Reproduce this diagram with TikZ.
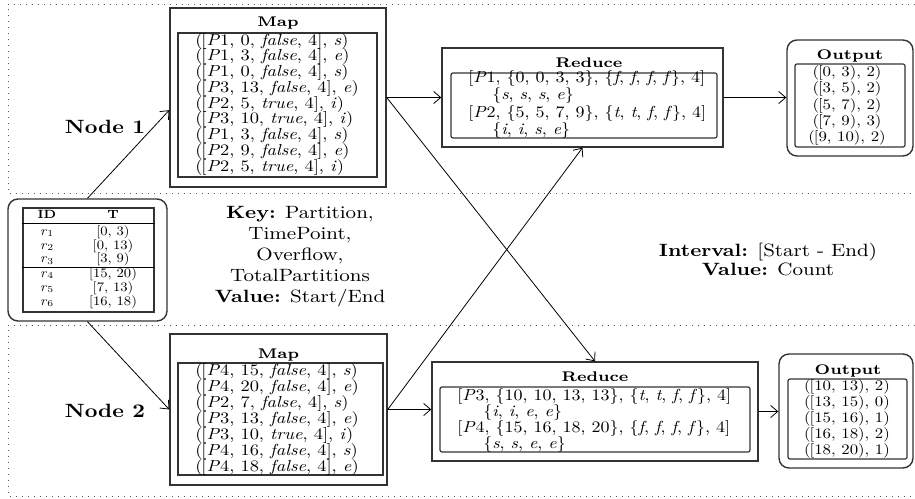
\documentclass[tikz,border=0pt]{standalone}
\usepackage{graphicx}
\usetikzlibrary{fit,calc,arrows.meta}

% slightly widened lettering
\newcommand\hs[1]{\scalebox{1.15}[1]{#1}}
\newcommand\ti[1]{\textit{#1}}
% opening parenthesis set close to the following bracket
\newcommand\op{(\kern-0.6pt}
% rows with a fixed baseline distance: #1 = x scale, #2 = y scale, #3 = skip, #4 = rows
\newcommand\cstack[4]{\scalebox{#1}[#2]{\vbox{\baselineskip=#3\lineskiplimit=-\maxdimen\lineskip=0pt\halign{\hfil##\hfil\cr#4\crcr}}}}
\newcommand\lstack[4]{\scalebox{#1}[#2]{\vbox{\baselineskip=#3\lineskiplimit=-\maxdimen\lineskip=0pt\halign{##\hfil\cr#4\crcr}}}}

\tikzset{
  boxA/.style={draw=black!80, line width=0.7pt, inner sep=0pt},
  boxIn/.style={draw=black!80, line width=0.6pt, inner sep=0pt},
  boxR/.style={boxA, rounded corners=5pt},
  sepline/.style={draw=black!65, line width=0.5pt, dash pattern=on 0.5pt off 2.5pt},
  arr/.style={-{Straight Barb[length=3.5pt,width=6pt]}, line width=0.4pt},
  ttl/.style={anchor=base, inner sep=0pt, font=\fontsize{7}{7}\selectfont\bfseries},
  rowsL/.style={anchor=west, inner sep=0pt, font=\normalsize},
  rowsC/.style={inner sep=0pt, font=\normalsize},
  idcell/.style={anchor=base, inner sep=0pt, font=\normalsize},
  idhead/.style={anchor=base, inner sep=0pt, font=\fontsize{6}{7}\selectfont\bfseries},
  note/.style={inner sep=0pt, font=\fontsize{8.9}{10}\selectfont},
  nodelbl/.style={inner sep=0pt, font=\fontsize{9.6}{11}\selectfont\bfseries},
}

\begin{document}
\begin{tikzpicture}[x=0.5pt, y=-0.5pt]
\useasboundingbox (0,0) rectangle (915,498);

% dotted bands of the two machines
\draw[sepline] (915,4) -- (8,4) -- (8,193) -- (915,193);
\draw[sepline] (915,325) -- (8,325) -- (8,496) -- (915,496);

% input relation
\node[boxR, fit={(8,199) (167,321)}] (idbox) {};
\node[boxIn, fit={(23,208) (154,312)}] (idtab) {};
\draw[line width=0.5pt] (idtab.west |- 0,223) -- (idtab.east |- 0,223);
\draw[line width=0.5pt] (idtab.west |- 0,267) -- (idtab.east |- 0,267);
\node[idhead] (hid) at (47,218) {ID};
\node[idhead] (ht) at (113,218) {T};
\foreach \i/\v/\yy in {1/{[0, 3)}/232, 2/{[0, 13)}/246, 3/{[3, 9)}/259.5, 4/{[15, 20)}/274, 5/{[7, 13)}/288, 6/{[16, 18)}/302}{
  \node[idcell] (rid\i) at (47,\yy+3) {\scalebox{0.73}[0.65]{\ti{r}\textsubscript{\i}}};
  \node[idcell] (tid\i) at (113,\yy+3) {\scalebox{0.73}[0.65]{\v}};
}

% machine labels
\node[nodelbl] (n1) at (105,127) {\hs{Node 1}};
\node[nodelbl] (n2) at (105,411) {\hs{Node 2}};

% map phase, node 1
\node[boxA, fit={(170,8) (386,187)}] (map1) {};
\node[boxIn, fit={(178,33) (377,177)}] (map1in) {};
\node[ttl] (map1t) at (278,26) {\hs{Map}};
\node[rowsL] (map1rows) at (195,104.2) {\lstack{0.922}{0.8}{9.84pt}{%
\op[\ti{P}1, 0, \ti{false}, 4], \ti{s})\cr
\op[\ti{P}1, 3, \ti{false}, 4], \ti{e})\cr
\op[\ti{P}1, 0, \ti{false}, 4], \ti{s})\cr
\op[\ti{P}3, 13, \ti{false}, 4], \ti{e})\cr
\op[\ti{P}2, 5, \ti{true}, 4], \ti{i})\cr
\op[\ti{P}3, 10, \ti{true}, 4], \ti{i})\cr
\op[\ti{P}1, 3, \ti{false}, 4], \ti{s})\cr
\op[\ti{P}2, 9, \ti{false}, 4], \ti{e})\cr
\op[\ti{P}2, 5, \ti{true}, 4], \ti{i})}};

% map phase, node 2
\node[boxA, fit={(170,334) (387,485)}] (map2) {};
\node[boxIn, fit={(178,363) (383,475)}] (map2in) {};
\node[ttl] (map2t) at (278.5,358) {\hs{Map}};
\node[rowsL] (map2rows) at (195,419.5) {\lstack{0.922}{0.8}{9.9pt}{%
\op[\ti{P}4, 15, \ti{false}, 4], \ti{s})\cr
\op[\ti{P}4, 20, \ti{false}, 4], \ti{e})\cr
\op[\ti{P}2, 7, \ti{false}, 4], \ti{s})\cr
\op[\ti{P}3, 13, \ti{false}, 4], \ti{e})\cr
\op[\ti{P}3, 10, \ti{true}, 4], \ti{i})\cr
\op[\ti{P}4, 16, \ti{false}, 4], \ti{s})\cr
\op[\ti{P}4, 18, \ti{false}, 4], \ti{e})}};

% reduce phase, node 1
\node[boxA, fit={(442,48) (723,147)}] (red1) {};
\node[boxIn, rounded corners=1pt, fit={(451,73) (717,138)}] (red1in) {};
\node[ttl] (red1t) at (589,67) {\hs{Reduce}};
\node[rowsL] (red1rows) at (468,104.5) {\lstack{0.9}{0.8}{10.63pt}{%
[\ti{P}1, \{0, 0, 3, 3\}, \{\ti{f}, \ti{f}, \ti{f}, \ti{f}\}, 4]\cr
\hspace*{13.3pt}\{\ti{s}, \ti{s}, \ti{s}, \ti{e}\}\cr
[\ti{P}2, \{5, 5, 7, 9\}, \{\ti{t}, \ti{t}, \ti{f}, \ti{f}\}, 4]\cr
\hspace*{13.3pt}\{\ti{i}, \ti{i}, \ti{s}, \ti{e}\}}};

% reduce phase, node 2
\node[boxA, fit={(432,362) (758,461)}] (red2) {};
\node[boxIn, rounded corners=1pt, fit={(440,387) (750,452)}] (red2in) {};
\node[ttl] (red2t) at (595,381) {\hs{Reduce}};
\node[rowsL] (red2rows) at (457,420.5) {\lstack{0.9}{0.8}{10.19pt}{%
[\ti{P}3, \{10, 10, 13, 13\}, \{\ti{t}, \ti{t}, \ti{f}, \ti{f}\}, 4]\cr
\hspace*{14.4pt}\{\ti{i}, \ti{i}, \ti{e}, \ti{e}\}\cr
[\ti{P}4, \{15, 16, 18, 20\}, \{\ti{f}, \ti{f}, \ti{f}, \ti{f}\}, 4]\cr
\hspace*{14.4pt}\{\ti{s}, \ti{s}, \ti{e}, \ti{e}\}}};

% outputs
\node[boxR, fit={(787,40) (913,156)}] (out1) {};
\node[boxIn, rounded corners=1pt, fit={(795,64) (905,147)}] (out1in) {};
\node[ttl] (out1t) at (850,59) {\hs{Output}};
\node[rowsC] (out1rows) at (847,105.4) {\cstack{0.84}{0.73}{11.16pt}{%
\op[0, 3), 2)\cr
\op[3, 5), 2)\cr
\op[5, 7), 2)\cr
\op[7, 9), 3)\cr
\op[9, 10), 2)}};

\node[boxR, fit={(779,354) (913,468)}] (out2) {};
\node[boxIn, rounded corners=1pt, fit={(788,379) (907,459)}] (out2in) {};
\node[ttl] (out2t) at (848,374) {\hs{Output}};
\node[rowsC] (out2rows) at (847,419) {\cstack{0.84}{0.73}{10.96pt}{%
\op[10, 13), 2)\cr
\op[13, 15), 0)\cr
\op[15, 16), 1)\cr
\op[16, 18), 2)\cr
\op[18, 20), 1)}};

% legends
\node[note] (keytxt) at (300,256.6) {\cstack{1.15}{1}{10.4pt}{%
\textbf{Key:} Partition,\cr
TimePoint,\cr
Overflow,\cr
TotalPartitions\cr
\textbf{Value:} Start/End}};
\node[note] (ivtxt) at (768,260) {\cstack{1.15}{1}{9.5pt}{%
\textbf{Interval:} [Start - End)\cr
\textbf{Value:} Count}};

% data flow
\draw[arr] (idbox.north) -- ($(map1.north west)!0.57!(map1.south west)$);
\draw[arr] (idbox.south) -- (map2.west);
\draw[arr] (map1.east) -- (map1.east -| red1.west);
\draw[arr] (map1.east) -- (red2.north);
\draw[arr] (map2.east) -- (red1.south);
\draw[arr] (map2.east) -- (map2.east -| red2.west);
\draw[arr] (red1.east) -- (red1.east -| out1.west);
\draw[arr] (red2.east) -- (red2.east -| out2.west);
\end{tikzpicture}
\end{document}
